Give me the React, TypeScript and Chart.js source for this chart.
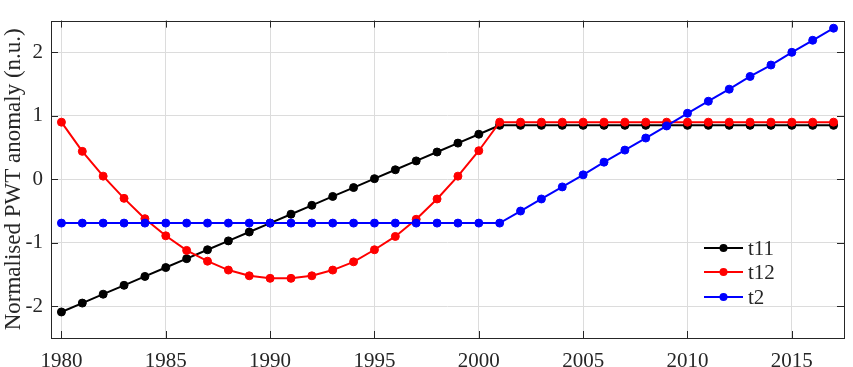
import React, { useEffect, useRef } from "react";
import { Chart, registerables } from "chart.js";

Chart.register(...registerables);

const years: number[] = [
  1980, 1981, 1982, 1983, 1984, 1985, 1986, 1987, 1988, 1989,
  1990, 1991, 1992, 1993, 1994, 1995, 1996, 1997, 1998, 1999,
  2000, 2001, 2002, 2003, 2004, 2005, 2006, 2007, 2008, 2009,
  2010, 2011, 2012, 2013, 2014, 2015, 2016, 2017,
];

const t11: number[] = [
  -2.09, -1.95, -1.81, -1.67, -1.53, -1.39, -1.25, -1.11, -0.97, -0.83,
  -0.69, -0.55, -0.41, -0.27, -0.13, 0.01, 0.15, 0.29, 0.43, 0.57,
  0.71, 0.85, 0.85, 0.85, 0.85, 0.85, 0.85, 0.85, 0.85, 0.85,
  0.85, 0.85, 0.85, 0.85, 0.85, 0.85, 0.85, 0.85,
];

const t12: number[] = [
  0.9, 0.44, 0.05, -0.3, -0.62, -0.89, -1.12, -1.29, -1.43, -1.52,
  -1.56, -1.56, -1.52, -1.43, -1.3, -1.11, -0.9, -0.63, -0.31, 0.05,
  0.45, 0.9, 0.9, 0.9, 0.9, 0.9, 0.9, 0.9, 0.9, 0.9,
  0.9, 0.9, 0.9, 0.9, 0.9, 0.9, 0.9, 0.9,
];

const t2: number[] = [
  -0.69, -0.69, -0.69, -0.69, -0.69, -0.69, -0.69, -0.69, -0.69, -0.69,
  -0.69, -0.69, -0.69, -0.69, -0.69, -0.69, -0.69, -0.69, -0.69, -0.69,
  -0.69, -0.69, -0.5, -0.31, -0.12, 0.07, 0.27, 0.46, 0.65, 0.84,
  1.04, 1.23, 1.42, 1.62, 1.8, 2.0, 2.19, 2.38,
];

const xTicks: number[] = [1980, 1985, 1990, 1995, 2000, 2005, 2010, 2015];
const yTicks: number[] = [-2, -1, 0, 1, 2];

const seriesNames: string[] = ["t11", "t12", "t2"];
const seriesColors: string[] = ["#000000", "#ff0000", "#0000ff"];

const FONT = "'Liberation Serif', 'Times New Roman', serif";
const AXIS_COLOR = "#262626";

const boxPlugin = {
  id: "matlabBox",
  afterDatasetsDraw(chart: any) {
    const { ctx, chartArea, scales } = chart;
    const { left, right, top, bottom } = chartArea;
    ctx.save();
    ctx.strokeStyle = AXIS_COLOR;
    ctx.lineWidth = 1;
    const tl = 7;
    ctx.beginPath();
    xTicks.forEach((v) => {
      const x = Math.round(scales.x.getPixelForValue(v)) + 0.5;
      ctx.moveTo(x, bottom);
      ctx.lineTo(x, bottom - tl);
      ctx.moveTo(x, top);
      ctx.lineTo(x, top + tl);
    });
    yTicks.forEach((v) => {
      const y = Math.round(scales.y.getPixelForValue(v)) + 0.5;
      ctx.moveTo(left, y);
      ctx.lineTo(left + tl, y);
      ctx.moveTo(right, y);
      ctx.lineTo(right - tl, y);
    });
    ctx.stroke();
    ctx.strokeRect(Math.round(left) + 0.5, Math.round(top) + 0.5, Math.round(right - left), Math.round(bottom - top));

    // legend
    const lx0 = right - 140;
    const lx1 = lx0 + 39;
    const rows = [bottom - 90, bottom - 66, bottom - 41];
    ctx.font = `21px ${FONT}`;
    ctx.textBaseline = "middle";
    ctx.textAlign = "left";
    seriesNames.forEach((name, i) => {
      const y = rows[i];
      ctx.strokeStyle = seriesColors[i];
      ctx.lineWidth = 2;
      ctx.beginPath();
      ctx.moveTo(lx0, y);
      ctx.lineTo(lx1, y);
      ctx.stroke();
      ctx.fillStyle = seriesColors[i];
      ctx.beginPath();
      ctx.arc((lx0 + lx1) / 2, y, 4, 0, Math.PI * 2);
      ctx.fill();
      ctx.fillStyle = AXIS_COLOR;
      ctx.fillText(name, lx1 + 5, y + 1);
    });
    ctx.restore();
  },
};

export default function App() {
  const ref = useRef<HTMLCanvasElement>(null);

  useEffect(() => {
    document.body.style.margin = "0";
    const mk = (data: number[]) => years.map((y, i) => ({ x: y, y: data[i] }));
    const allSeries = [t11, t12, t2];
    const chart = new Chart(ref.current as HTMLCanvasElement, {
      type: "line",
      data: {
        datasets: allSeries.map((s, i) => ({
          label: seriesNames[i],
          data: mk(s),
          borderColor: seriesColors[i],
          backgroundColor: seriesColors[i],
          pointBackgroundColor: seriesColors[i],
          pointBorderColor: seriesColors[i],
          borderWidth: 2,
          pointRadius: 4,
          pointBorderWidth: 1,
          tension: 0,
          fill: false,
          order: 3 - i,
        })),
      },
      options: {
        animation: false,
        responsive: false,
        layout: { padding: { left: 0, right: 9, top: 8, bottom: 0 } },
        plugins: { legend: { display: false }, tooltip: { enabled: false } },
        scales: {
          x: {
            type: "linear",
            min: 1979.5,
            max: 2017.5,
            afterBuildTicks: (scale: any) => {
              scale.ticks = xTicks.map((v) => ({ value: v }));
            },
            afterFit: (scale: any) => {
              scale.height = 29;
            },
            grid: { color: "#dcdcdc", lineWidth: 1, drawTicks: false },
            border: { display: false },
            ticks: {
              color: AXIS_COLOR,
              font: { family: FONT, size: 21 },
              padding: 11,
              maxRotation: 0,
              autoSkip: false,
              callback: (v: any) => String(v),
            },
          },
          y: {
            type: "linear",
            min: -2.5,
            max: 2.5,
            afterBuildTicks: (scale: any) => {
              scale.ticks = yTicks.map((v) => ({ value: v }));
            },
            afterFit: (scale: any) => {
              scale.width = 51;
            },
            grid: { color: "#dcdcdc", lineWidth: 1, drawTicks: false },
            border: { display: false },
            ticks: {
              color: AXIS_COLOR,
              font: { family: FONT, size: 21 },
              padding: 8,
              callback: (v: any) => String(v),
            },
            title: {
              display: true,
              text: "Normalised PWT anomaly (n.u.)",
              color: AXIS_COLOR,
              font: { family: FONT, size: 23 },
              padding: { top: 0, bottom: 0 },
            },
          },
        },
      },
      plugins: [boxPlugin],
    });
    return () => chart.destroy();
  }, []);

  return (
    <div style={{ position: "fixed", left: 0, top: 0, width: 853, height: 367 }}>
      <canvas ref={ref} width={853} height={367} style={{ display: "block" }} />
    </div>
  );
}
